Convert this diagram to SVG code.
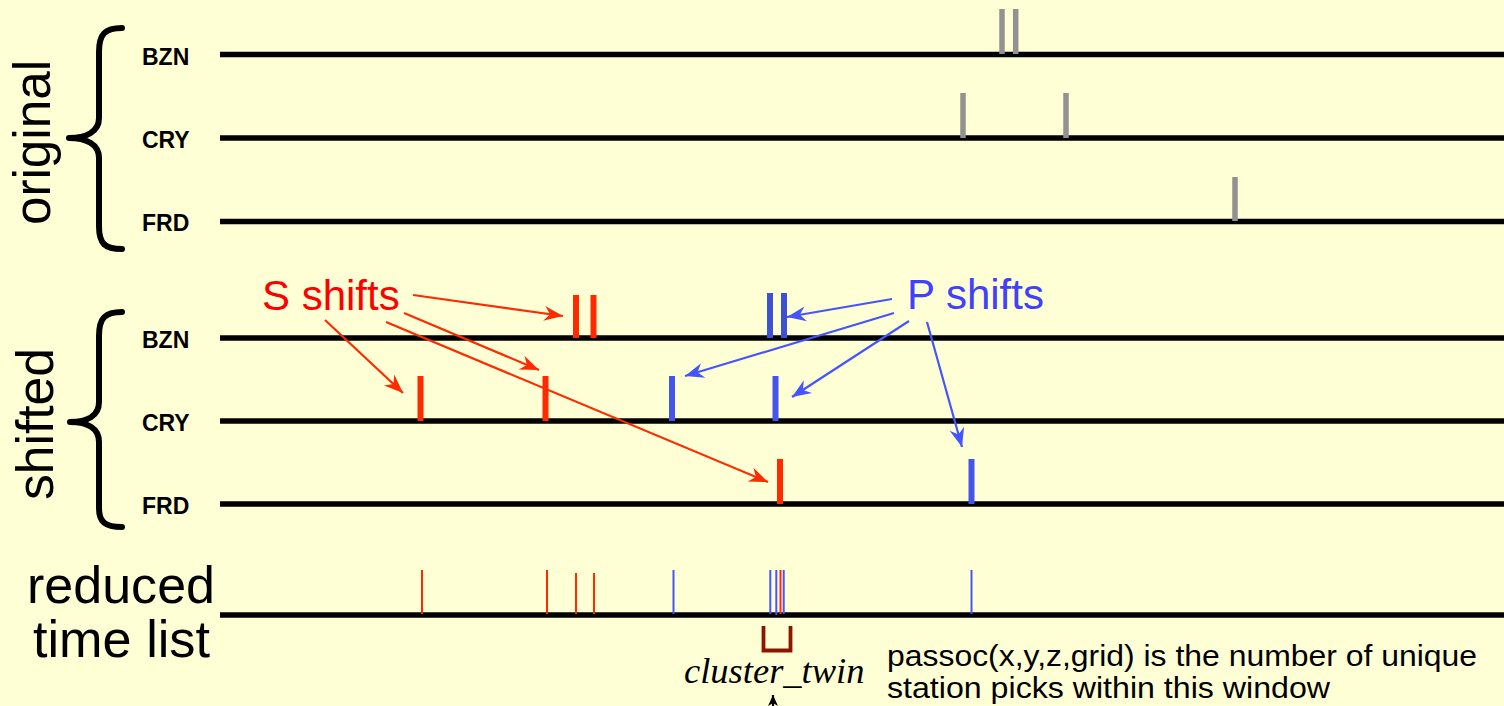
<svg xmlns="http://www.w3.org/2000/svg" width="1504" height="706" viewBox="0 0 1504 706">
<defs>
<style>
.bg{fill:#FFFFD6}
.axis{stroke:#000;stroke-width:5.5;fill:none}
.brace{stroke:#000;stroke-width:6;fill:none;stroke-linecap:round;stroke-linejoin:round}
.stn{font-family:"Liberation Sans",Arial,sans-serif;font-weight:bold;font-size:23px;fill:#000}
.big{font-family:"Liberation Sans",Arial,sans-serif;font-size:52px;fill:#000}
.gray{stroke:#929292;stroke-width:5.5}
.red{stroke:#FF2A00;stroke-width:6}
.blue{stroke:#4455EE;stroke-width:6}
.blued{stroke:#4050D4;stroke-width:6}
.rred{stroke:#FF2A00;stroke-width:2}
.rblue{stroke:#4455FF;stroke-width:2}
.sarr{stroke:#FF2A00;stroke-width:2.2;fill:none;marker-end:url(#ah-red)}
.parr{stroke:#4455FF;stroke-width:2.2;fill:none;marker-end:url(#ah-blue)}
.lbl{font-family:"Liberation Sans",Arial,sans-serif;font-size:42px}
</style>
<marker id="ah-red" markerUnits="userSpaceOnUse" viewBox="-20 -8 22 16" refX="0" refY="0" markerWidth="22" markerHeight="16" orient="auto">
<path d="M0,0 L-19,-7.5 L-13,0 L-19,7.5 Z" fill="#FF2A00"/>
</marker>
<marker id="ah-blue" markerUnits="userSpaceOnUse" viewBox="-20 -8 22 16" refX="0" refY="0" markerWidth="22" markerHeight="16" orient="auto">
<path d="M0,0 L-19,-7.5 L-13,0 L-19,7.5 Z" fill="#4455FF"/>
</marker>
<marker id="ah-black" markerUnits="userSpaceOnUse" viewBox="-12 -6 13 12" refX="0" refY="0" markerWidth="13" markerHeight="12" orient="auto">
<path d="M0,0 L-11,-5 L-8,0 L-11,5 Z" fill="#000"/>
</marker>
</defs>
<rect class="bg" x="0" y="0" width="1504" height="706"/>

<g id="group-original">
<text class="big" transform="translate(50,142.5) rotate(-90)" text-anchor="middle" textLength="165" lengthAdjust="spacingAndGlyphs">original</text>
<path class="brace" d="M122,28 C105,28 99,34 99,52 L99,118 C99,132 86,138 69,138 C86,138 99,144 99,158 L99,226 C99,244 105,249 122,249"/>
</g>

<g id="group-shifted">
<text class="big" transform="translate(53,424) rotate(-90)" text-anchor="middle" textLength="152" lengthAdjust="spacingAndGlyphs">shifted</text>
<path class="brace" d="M122,312 C105,312 99,318 99,336 L99,402 C99,416 87,422 70,422 C87,422 99,428 99,442 L99,508 C99,522 105,527 122,527"/>
</g>

<g id="group-reduced">
<text class="big" x="27" y="603" font-size="44" textLength="188" lengthAdjust="spacingAndGlyphs">reduced</text>
<text class="big" x="33" y="657" font-size="44" textLength="177" lengthAdjust="spacingAndGlyphs">time list</text>
</g>

<g id="trace-orig-BZN">
<text class="stn" x="142" y="65">BZN</text>
<line class="axis" x1="220" y1="54.5" x2="1504" y2="54.5"/>
<line class="gray" x1="1002" y1="9" x2="1002" y2="54"/>
<line class="gray" x1="1015.7" y1="9" x2="1015.7" y2="54"/>
</g>
<g id="trace-orig-CRY">
<text class="stn" x="142" y="148">CRY</text>
<line class="axis" x1="220" y1="138" x2="1504" y2="138"/>
<line class="gray" x1="963" y1="93" x2="963" y2="138"/>
<line class="gray" x1="1066" y1="93" x2="1066" y2="138"/>
</g>
<g id="trace-orig-FRD">
<text class="stn" x="142" y="231">FRD</text>
<line class="axis" x1="220" y1="221.5" x2="1504" y2="221.5"/>
<line class="gray" x1="1235" y1="177" x2="1235" y2="221"/>
</g>

<g id="trace-shift-BZN">
<text class="stn" x="142" y="348">BZN</text>
<line class="axis" x1="220" y1="338" x2="1504" y2="338"/>
<line class="red" x1="576" y1="295" x2="576" y2="338"/>
<line class="red" x1="593.5" y1="295" x2="593.5" y2="338"/>
<line class="blued" x1="770" y1="293" x2="770" y2="338"/>
<line class="blued" x1="784" y1="293" x2="784" y2="338"/>
</g>
<g id="trace-shift-CRY">
<text class="stn" x="142" y="431">CRY</text>
<line class="axis" x1="220" y1="421" x2="1504" y2="421"/>
<line class="red" x1="420.5" y1="376" x2="420.5" y2="421"/>
<line class="red" x1="545.5" y1="376" x2="545.5" y2="421"/>
<line class="blue" x1="672" y1="376" x2="672" y2="421"/>
<line class="blue" x1="775.5" y1="376" x2="775.5" y2="421"/>
</g>
<g id="trace-shift-FRD">
<text class="stn" x="142" y="514">FRD</text>
<line class="axis" x1="220" y1="504" x2="1504" y2="504"/>
<line class="red" x1="780" y1="459" x2="780" y2="504"/>
<line class="blue" x1="971.5" y1="459" x2="971.5" y2="504"/>
</g>

<g id="trace-reduced">
<line class="axis" x1="220" y1="615" x2="1504" y2="615" stroke-width="6"/>
<line class="rred" x1="422" y1="570" x2="422" y2="614"/>
<line class="rred" x1="547" y1="570" x2="547" y2="614"/>
<line class="rred" x1="576" y1="573" x2="576" y2="614"/>
<line class="rred" x1="594" y1="573" x2="594" y2="614"/>
<line class="rblue" x1="673.5" y1="570" x2="673.5" y2="614"/>
<line class="rblue" x1="770.3" y1="570" x2="770.3" y2="614"/>
<line class="rblue" x1="776.3" y1="570" x2="776.3" y2="615"/>
<line class="rred" x1="780.5" y1="570" x2="780.5" y2="614"/>
<line class="rblue" x1="783.7" y1="570" x2="783.7" y2="614"/>
<line class="rblue" x1="971.5" y1="570" x2="971.5" y2="614"/>
</g>

<g id="label-S">
<text class="lbl" x="262" y="310" fill="#FF0000">S shifts</text>
</g>
<g id="label-P">
<text class="lbl" x="907" y="309" fill="#4040FF">P shifts</text>
</g>

<g id="cluster-window">
<path d="M763.5,626 L763.5,650.5 L790.5,650.5 L790.5,626" fill="none" stroke="#8C1500" stroke-width="3.8"/>
<text x="684" y="683" font-family="'Liberation Serif','Times New Roman',serif" font-style="italic" font-size="36.5" fill="#000">cluster_twin</text>
</g>

<g id="note">
<text font-family="'Liberation Sans',Arial,sans-serif" font-size="30" fill="#000">
<tspan x="887" y="666" textLength="590" lengthAdjust="spacingAndGlyphs">passoc(x,y,z,grid) is the number of unique</tspan>
<tspan x="887" y="698" textLength="443" lengthAdjust="spacingAndGlyphs">station picks within this window</tspan>
</text>
</g>

<g id="connectors">
<line class="sarr" x1="413" y1="295" x2="563" y2="316"/>
<line class="sarr" x1="325" y1="320" x2="403" y2="393"/>
<line class="sarr" x1="404" y1="313" x2="539" y2="370"/>
<line class="sarr" x1="386" y1="322" x2="768" y2="482"/>
<line class="parr" x1="892" y1="299" x2="787" y2="317"/>
<line class="parr" x1="894" y1="313" x2="685" y2="376"/>
<line class="parr" x1="909" y1="321" x2="792" y2="397"/>
<line class="parr" x1="927" y1="322" x2="962" y2="447"/>
<line x1="773" y1="712" x2="773" y2="695" stroke="#000" stroke-width="2.2" marker-end="url(#ah-black)"/>
</g>
</svg>
